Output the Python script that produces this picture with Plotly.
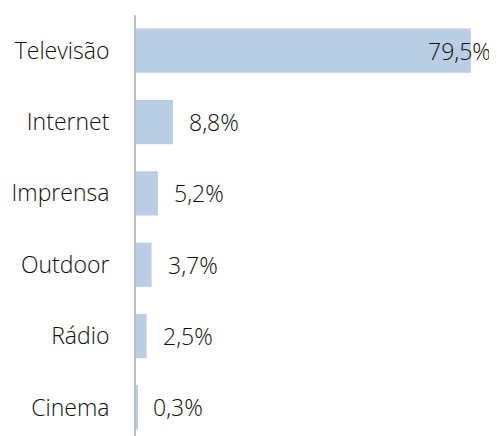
import plotly.graph_objects as go

categories = ["Televisão", "Internet", "Imprensa", "Outdoor", "Rádio", "Cinema"]
values = [79.5, 8.8, 5.2, 3.7, 2.5, 0.3]
labels = ["79,5%", "8,8%", "5,2%", "3,7%", "2,5%", "0,3%"]

FONT = "Open Sans"
TXT = dict(family=FONT, size=23, color="#0d0d0d", weight=300)

fig = go.Figure(go.Bar(
    x=values, y=categories, orientation="h",
    marker=dict(color="#b9cde5", line=dict(width=0)),
    hoverinfo="skip",
))

for c, v, t in zip(categories, values, labels):
    if v > 50:
        fig.add_annotation(x=v, y=c, text=t, xanchor="right", xshift=22, showarrow=False, font=TXT)
    else:
        fig.add_annotation(x=v, y=c, text=t, xanchor="left", xshift=14, showarrow=False, font=TXT)

fig.update_layout(
    width=489, height=428,
    margin=dict(l=128, r=3, t=7, b=0, autoexpand=False),
    plot_bgcolor="white", paper_bgcolor="white",
    bargap=0.38,
    showlegend=False,
    xaxis=dict(range=[0, 85], visible=False, showgrid=False, zeroline=False),
    yaxis=dict(
        categoryorder="array", categoryarray=categories,
        range=[5.4, -0.5],
        showline=True, linecolor="#bfbfbf", linewidth=2,
        showgrid=False, zeroline=False, ticks="",
        ticklabelstandoff=20, automargin=False,
        tickfont=TXT,
    ),
)

fig.write_html("out.html")
